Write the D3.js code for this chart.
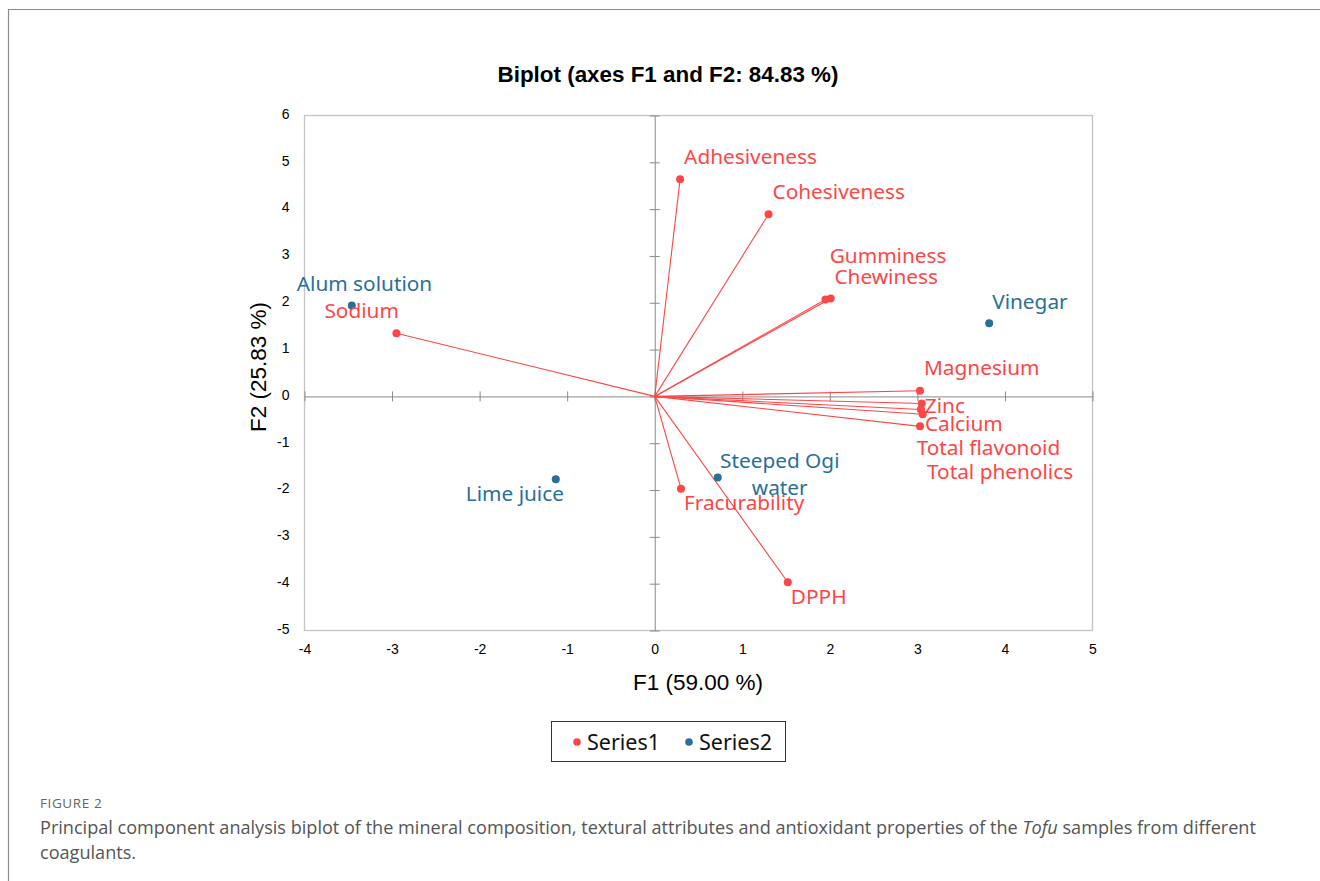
<!DOCTYPE html>
<html>
<head>
<meta charset="utf-8">
<script src="https://cdn.jsdelivr.net/npm/d3@7"></script>
<style>
  body { margin: 0; background: #fff; }
  svg { display: block; }
</style>
</head>
<body>
<svg width="1320" height="881"></svg>
<script>
// variables (Series1) - drawn as vectors from the origin
const varNames = ["Adhesiveness", "Cohesiveness", "Gumminess", "Chewiness", "Sodium",
  "Magnesium", "Zinc", "Calcium", "Total flavonoid", "Total phenolics", "Fracurability", "DPPH"];
const varF1 = [0.29, 1.30, 2.01, 1.95, -2.95, 3.03, 3.05, 3.04, 3.06, 3.03, 0.30, 1.52];
const varF2 = [4.64, 3.89, 2.09, 2.07, 1.35, 0.12, -0.15, -0.28, -0.38, -0.64, -1.97, -3.97];

// observations (Series2)
const obsNames = ["Alum solution", "Vinegar", "Lime juice", "Steeped Ogi water"];
const obsF1 = [-3.46, 3.82, -1.13, 0.72];
const obsF2 = [1.94, 1.56, -1.77, -1.73];

const xTicks = [-4, -3, -2, -1, 0, 1, 2, 3, 4, 5];
const yTicks = [-5, -4, -3, -2, -1, 0, 1, 2, 3, 4, 5, 6];

// label placement (pixel offsets of the label's left edge / vertical middle from its point)
const labelPos = {
  "Adhesiveness": [4, -22], "Cohesiveness": [4, -23], "Gumminess": [-1, -43],
  "Chewiness": [9, -23], "Sodium": [-72, -22], "Magnesium": [4, -23],
  "Zinc": [3, 2], "Calcium": [4, 14], "Total flavonoid": [-6, 34], "Total phenolics": [7, 45],
  "Fracurability": [3, 14], "DPPH": [3, 14],
  "Alum solution": [-55, -22], "Vinegar": [3, -22], "Lime juice": [-90, 14]
};

const red = "#ff4545", blue = "#2a6f97";
const labelFont = "'Noto Sans', sans-serif";
const labelSize = 20.8;

const svg = d3.select("svg");

// card border
svg.append("path").attr("d", "M1320,9.5 H8.5 V881")
  .attr("fill", "none").attr("stroke", "#8c8c8c").attr("stroke-width", 1.2);

const x = d3.scaleLinear().domain([-4, 5]).range([304.5, 1092.5]);
const y = d3.scaleLinear().domain([-5, 6]).range([630.5, 115.5]);

// title
svg.append("text").attr("x", 668).attr("y", 82).attr("text-anchor", "middle")
  .attr("font-family", "'Liberation Sans', Arial, sans-serif").attr("font-weight", "bold")
  .attr("font-size", 22.4).attr("fill", "#000").text("Biplot (axes F1 and F2: 84.83 %)");

// plot frame
svg.append("rect").attr("x", x(-4)).attr("y", y(6))
  .attr("width", x(5) - x(-4)).attr("height", y(-5) - y(6))
  .attr("fill", "none").attr("stroke", "#c4c4c4").attr("stroke-width", 1.3);

// zero axes with cross ticks
const yAxis = svg.append("g").attr("transform", `translate(${x(0)},0)`)
  .call(d3.axisLeft(y).tickValues(yTicks).tickSize(0).tickFormat(""));
yAxis.select(".domain").attr("stroke", "#8a8a8a");
yAxis.selectAll(".tick").append("line").attr("x1", -5).attr("x2", 5).attr("stroke", "#8a8a8a");

const xAxis = svg.append("g").attr("transform", `translate(0,${y(0)})`)
  .call(d3.axisBottom(x).tickValues(xTicks).tickSize(0).tickFormat(""));
xAxis.select(".domain").attr("stroke", "#8a8a8a");
xAxis.selectAll(".tick").append("line").attr("y1", -5).attr("y2", 5).attr("stroke", "#8a8a8a");

// tick labels on frame
const tickFont = "'Liberation Sans', Arial, sans-serif";
const yLab = svg.append("g").attr("transform", `translate(${x(-4)},0)`)
  .call(d3.axisLeft(y).tickValues(yTicks).tickSize(0).tickPadding(15).tickFormat(d => String(d)));
yLab.select(".domain").remove();
yLab.selectAll("text").attr("font-family", tickFont).attr("font-size", 14).attr("fill", "#000")
  .attr("dy", "0.2em");

const xLab = svg.append("g").attr("transform", `translate(0,${y(-5)})`)
  .call(d3.axisBottom(x).tickValues(xTicks).tickSize(0).tickPadding(14).tickFormat(d => String(d)));
xLab.select(".domain").remove();
xLab.selectAll("text").attr("font-family", tickFont).attr("font-size", 14).attr("fill", "#000");

// axis titles
svg.append("text").attr("x", 698).attr("y", 690).attr("text-anchor", "middle")
  .attr("font-family", tickFont).attr("font-size", 22.5).attr("fill", "#000").text("F1 (59.00 %)");
svg.append("text").attr("transform", "translate(266,367) rotate(-90)")
  .attr("text-anchor", "middle").attr("font-family", tickFont).attr("font-size", 22.5)
  .attr("fill", "#000").text("F2 (25.83 %)");

// variable vectors
const vars = varNames.map((n, i) => ({ name: n, f1: varF1[i], f2: varF2[i] }));
const obs = obsNames.map((n, i) => ({ name: n, f1: obsF1[i], f2: obsF2[i] }));

svg.append("g").selectAll("line").data(vars).join("line")
  .attr("x1", x(0)).attr("y1", y(0))
  .attr("x2", d => x(d.f1)).attr("y2", d => y(d.f2))
  .attr("stroke", red).attr("stroke-width", 1.1);

svg.append("g").selectAll("circle").data(vars).join("circle")
  .attr("cx", d => x(d.f1)).attr("cy", d => y(d.f2)).attr("r", 4).attr("fill", red);

svg.append("g").selectAll("circle").data(obs).join("circle")
  .attr("cx", d => x(d.f1)).attr("cy", d => y(d.f2)).attr("r", 4).attr("fill", blue);

// labels
function addLabels(data, color) {
  svg.append("g").selectAll("text").data(data.filter(d => labelPos[d.name])).join("text")
    .attr("x", d => x(d.f1) + labelPos[d.name][0])
    .attr("y", d => y(d.f2) + labelPos[d.name][1])
    .attr("dy", "0.35em")
    .attr("font-family", labelFont).attr("font-size", labelSize).attr("fill", color)
    .text(d => d.name);
}
addLabels(vars, red);
addLabels(obs, blue);

// two-line label for Steeped Ogi water
const sow = obs.find(d => d.name === "Steeped Ogi water");
const sowText = svg.append("text").attr("font-family", labelFont).attr("font-size", labelSize)
  .attr("fill", blue).attr("text-anchor", "middle");
sowText.append("tspan").attr("x", x(sow.f1) + 62).attr("y", y(sow.f2) - 17).attr("dy", "0.35em").text("Steeped Ogi");
sowText.append("tspan").attr("x", x(sow.f1) + 62).attr("y", y(sow.f2) + 10).attr("dy", "0.35em").text("water");

// legend
const legend = svg.append("g").attr("transform", "translate(551,721)");
legend.append("rect").attr("x", 0.5).attr("y", 0.5).attr("width", 234).attr("height", 40)
  .attr("fill", "#fff").attr("stroke", "#333").attr("stroke-width", 1);
[["Series1", red, 26], ["Series2", blue, 138]].forEach(([name, c, lx]) => {
  legend.append("circle").attr("cx", lx).attr("cy", 21).attr("r", 3.8).attr("fill", c);
  legend.append("text").attr("x", lx + 10).attr("y", 21).attr("dy", "0.35em")
    .attr("font-family", labelFont).attr("font-size", 21.5).attr("fill", "#111").text(name);
});

// caption
const capFont = "'Open Sans', 'Noto Sans', sans-serif";
svg.append("text").attr("x", 40).attr("y", 808).attr("font-family", capFont)
  .attr("font-size", 13.5).attr("letter-spacing", 0.6).attr("fill", "#666").text("FIGURE 2");
const cap = svg.append("text").attr("x", 40).attr("y", 834).attr("font-family", capFont)
  .attr("font-size", 18.1).attr("fill", "#555");
cap.append("tspan").text("Principal component analysis biplot of the mineral composition, textural attributes and antioxidant properties of the ");
cap.append("tspan").attr("font-style", "italic").text("Tofu");
cap.append("tspan").text(" samples from different");
svg.append("text").attr("x", 40).attr("y", 859).attr("font-family", capFont)
  .attr("font-size", 18.1).attr("fill", "#555").text("coagulants.");
</script>
</body>
</html>
